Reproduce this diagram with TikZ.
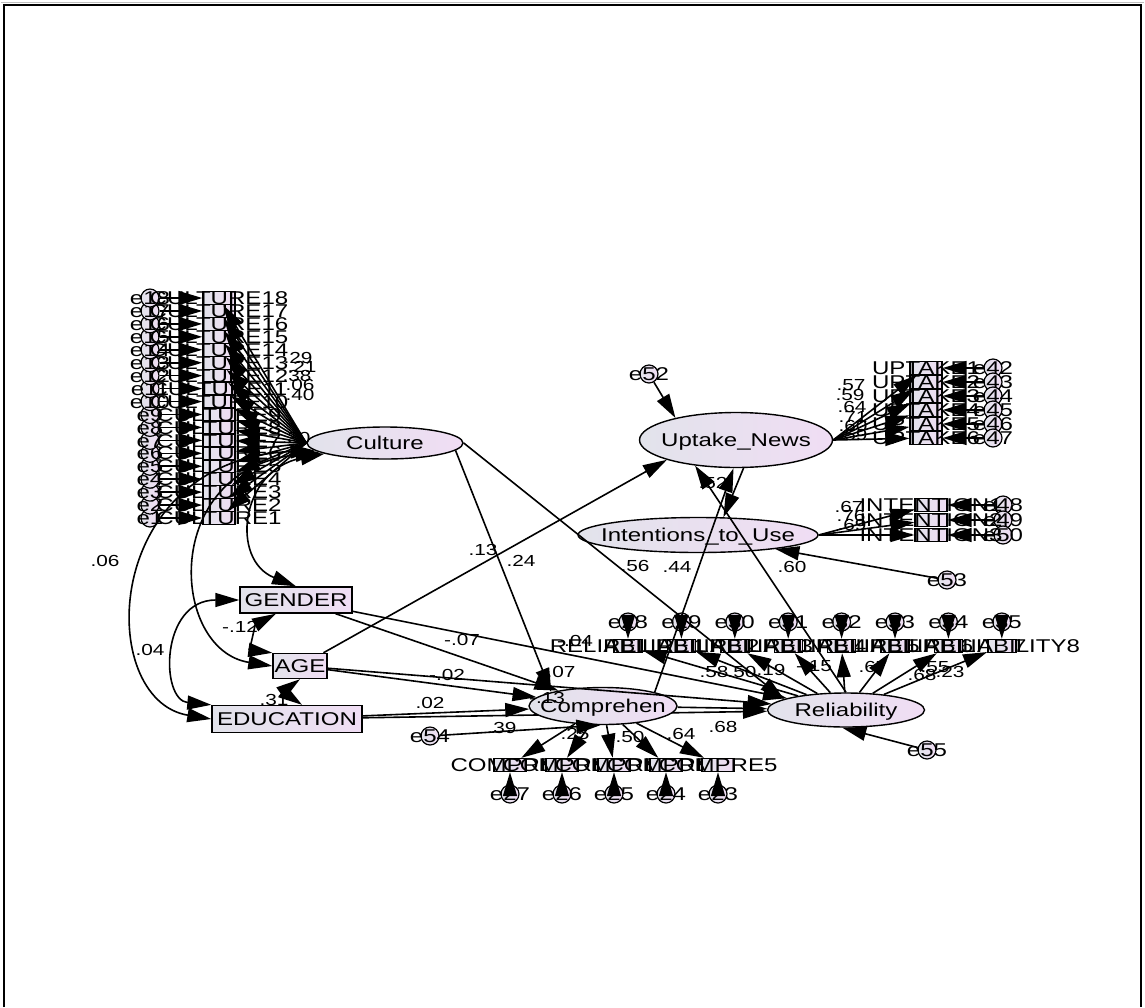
\documentclass[tikz,border=0pt]{standalone}
\usepackage{fontspec}
\setmainfont{Liberation Sans}[FakeStretch=1.3]
\usetikzlibrary{shapes.geometric,arrows.meta}
\pgfdeclarelayer{back}
\pgfsetlayers{back,main}

\definecolor{semleft}{RGB}{226,227,235}
\definecolor{semright}{RGB}{240,221,244}
\newcommand\semfont{\fontsize{18.5}{18.5}\selectfont}
\newcommand\estfont{\fontsize{16}{16}\selectfont}
% text that may run over the edge of its box
\newcommand\semtext[1]{\smash{\makebox[0pt]{\raisebox{-.36em}{#1}}}}

\tikzset{
  latent/.style={ellipse, draw, line width=1.4pt, left color=semleft, right color=semright, inner sep=0pt, font=\semfont},
  observed/.style={rectangle, draw, line width=1.4pt, left color=semleft, right color=semright, inner sep=0pt, font=\semfont},
  item/.style={observed, minimum width=32pt, minimum height=13pt},
  error/.style={circle, draw, line width=1.2pt, left color=semleft, right color=semright, minimum size=18pt, inner sep=0pt, font=\semfont},
  regpath/.style={line width=1.6pt, -{Triangle[length=24pt,width=14pt]}},
  covpath/.style={line width=1.6pt, {Triangle[length=24pt,width=14pt]}-{Triangle[length=24pt,width=14pt]}},
  est/.style={font=\estfont, inner sep=0pt}
}

\begin{document}
\begin{tikzpicture}[x=1pt,y=-1pt]
  \useasboundingbox (0,0) rectangle (1145,1007);
  \draw[gray!50, line width=1pt] (1,2) -- (1144,2);
  \draw[line width=1.6pt] (4,1007) -- (4,5) -- (1141,5) -- (1141,1007);

  % latent variables
  \node[latent, minimum width=156pt, minimum height=32pt] (cul) at (385,443) {\semtext{Culture}};
  \node[latent, minimum width=193pt, minimum height=55pt] (upt) at (736,440) {\semtext{Uptake\_News}};
  \node[latent, minimum width=240pt, minimum height=35pt] (int) at (698,535) {\semtext{Intentions\_to\_Use}};
  \node[latent, minimum width=148pt, minimum height=37pt] (cmp) at (603,706) {\semtext{Comprehen}};
  \node[latent, minimum width=157pt, minimum height=34pt] (rel) at (846,710) {\semtext{Reliability}};

  % demographics
  \node[observed, minimum width=112pt, minimum height=26pt] (gen) at (296,600) {\semtext{GENDER}};
  \node[observed, minimum width=54pt, minimum height=25pt] (age) at (300,666) {\semtext{AGE}};
  \node[observed, minimum width=150pt, minimum height=27pt] (edu) at (287,719) {\semtext{EDUCATION}};

  % indicators and their errors
  \foreach \k in {1,...,18}{
    \pgfmathsetmacro\yy{518-(\k-1)*12.94}
    \node[error] (e\k) at (150,\yy) {\semtext{e\k}};
  }
  \foreach \k in {1,...,18}{
    \pgfmathsetmacro\yy{518-(\k-1)*12.94}
    \node[item] (c\k) at (219,\yy) {\semtext{CULTURE\k}};
  }
  \foreach \i [evaluate=\i as \yy using 368+14*(\i-1), evaluate=\i as \ee using int(41+\i)] in {1,...,6}{
    \node[error] (e\ee) at (993,\yy) {\semtext{e\ee}};
    \node[item] (u\i) at (926,\yy) {\semtext{UPTAKE\i}};
  }
  \foreach \i [evaluate=\i as \yy using 505+15*(\i-1), evaluate=\i as \ee using int(47+\i)] in {1,2,3}{
    \node[error] (e\ee) at (1003,\yy) {\semtext{e\ee}};
    \node[item] (n\i) at (931,\yy) {\semtext{INTENTION\i}};
  }
  \foreach \i [evaluate=\i as \xx using 628+53.4*(\i-1), evaluate=\i as \ee using int(27+\i)] in {1,...,8}{
    \node[error] (e\ee) at (\xx,622) {\semtext{e\ee}};
    \node[item, minimum width=28pt] (r\i) at (\xx,646) {\semtext{RELIABILITY\i}};
  }
  \foreach \i [evaluate=\i as \xx using 510+52*(\i-1), evaluate=\i as \ee using int(28-\i)] in {1,...,5}{
    \node[error] (e\ee) at (\xx,794) {\semtext{e\ee}};
    \node[item] (k\i) at (\xx,765) {\semtext{COMPRE\i}};
  }
  \node[error] (e52) at (649,374) {\semtext{e52}};
  \node[error] (e53) at (947,580) {\semtext{e53}};
  \node[error] (e54) at (430,736) {\semtext{e54}};
  \node[error] (e55) at (927,750) {\semtext{e55}};

  % measurement paths
  \foreach \k in {1,...,18}{
    \draw[regpath] (e\k) -- (c\k);
    \draw[regpath] (cul.west) -- (c\k);
  }
  \foreach \i [evaluate=\i as \ee using int(41+\i)] in {1,...,6}{
    \draw[regpath] (e\ee) -- (u\i);
    \draw[regpath] (upt.east) -- (u\i);
  }
  \foreach \i [evaluate=\i as \ee using int(47+\i)] in {1,2,3}{
    \draw[regpath] (e\ee) -- (n\i);
    \draw[regpath] (int.east) -- (n\i);
  }
  \foreach \i [evaluate=\i as \ee using int(27+\i)] in {1,...,8}{
    \draw[regpath] (e\ee) -- (r\i);
    \draw[regpath] (rel) -- (r\i);
  }
  \foreach \i [evaluate=\i as \ee using int(28-\i)] in {1,...,5}{
    \draw[regpath] (e\ee) -- (k\i);
    \draw[regpath] (cmp) -- (k\i);
  }

  % structural paths
  \draw[regpath] (cul.-6) -- (cmp.165);
  \draw[regpath] (cul.east) -- (rel.170);
  \draw[regpath] (age) -- (upt.196);
  \draw[regpath] (cmp.15) -- (upt.265);
  \draw[regpath] (upt.285) -- (int.35);
  \draw[regpath] (rel.north) -- (upt.212);
  \draw[regpath] (gen) -- (cmp);
  \draw[regpath] (gen) -- (rel);
  \draw[regpath] (age) -- (cmp);
  \draw[regpath] (age) -- (rel);
  \draw[regpath] (edu) -- (cmp);
  \begin{pgfonlayer}{back}
    \draw[regpath] (edu) -- (rel);
  \end{pgfonlayer}
  \draw[regpath] (cmp) -- (rel);
  \draw[regpath] (e52) -- (upt.160);
  \draw[regpath] (e53) -- (int);
  \draw[regpath] (e54) -- (cmp.262);
  \draw[regpath] (e55) -- (rel.258);

  % covariances
  \draw[covpath] (cul.190) .. controls (240,470) and (230,560) .. (gen.north);
  \draw[covpath] (cul.188) .. controls (160,470) and (170,650) .. (age.west);
  \draw[covpath] (cul.186) .. controls (100,460) and (95,700) .. (edu.west);
  \draw[covpath] (gen.west) .. controls (160,600) and (160,700) .. (edu.north west);
  \draw[covpath] ([xshift=-20pt]gen.south) .. controls (255,625) and (250,650) .. (age.north west);
  \draw[covpath] (age.south) .. controls (285,690) and (295,700) .. ([xshift=15pt]edu.north);

  % estimates
  \foreach \x/\y/\v [count=\n] in {
      105/561/.06, 150/650/.04, 240/627/-.12, 274/700/.31,
      483/550/.13, 521/561/.24, 462/640/-.07, 447/675/-.02, 430/703/.02,
      561/672/.07, 547/698/-.13, 502/728/.39, 575/734/.25, 630/737/.50,
      681/734/.64, 723/727/.68, 575/641/-.04,
      714/672/.58, 742/672/.50, 771/670/.19, 814/666/-.15, 873/667/.67,
      922/675/.68, 935/667/.55, 950/672/.23,
      635/566/.56, 677/567/.44, 792/567/.60, 713/483/.52,
      851/385/.57, 850/395/.59, 852/407/.64, 853/417/.71, 853/426/.60, 853/435/.59,
      849/507/.67, 851/516/.76, 852/525/.69,
      298/358/.29, 302/367/.21, 297/376/.38, 300/385/.06, 300/395/.40, 296/438/.30}
    \node[est] (est\n) at (\x,\y) {\v};
\end{tikzpicture}
\end{document}
